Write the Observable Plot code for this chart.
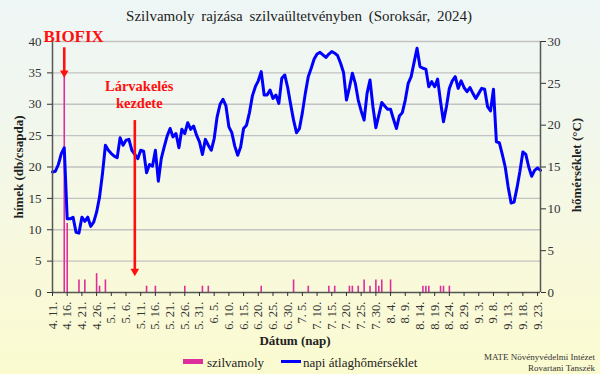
<!DOCTYPE html>
<html><head><meta charset="utf-8">
<script src="https://cdn.jsdelivr.net/npm/d3@7"></script>
<script src="https://cdn.jsdelivr.net/npm/@observablehq/plot@0.6"></script>
<style>
html,body{margin:0;padding:0;}
#wrap{position:relative;width:600px;height:374px;overflow:hidden;
 background:linear-gradient(to bottom,#eef6f6 0%,#f2f7ec 35%,#f8f9dc 70%,#fbfbd0 100%);
 font-family:"Liberation Serif","Times New Roman",serif;color:#222;}
#wrap svg{position:absolute;left:0;top:0;}
.ov{position:absolute;white-space:nowrap;line-height:1;}
</style></head><body>
<div id="wrap"></div>
<script>
// ---- data ----
const startDate = "2024-04-11";
// daily mean temperature (°C), 2024-04-11 .. 2024-09-24
const tempValues = [
 14.4,14.5,15.3,16.6,17.3, 8.8, 8.8, 9.0, 7.2, 7.1,
  9.0, 8.5, 9.0, 7.9, 8.4, 9.6,11.4,14.2,17.6,17.0,
 16.6,16.3,16.1,18.5,17.6,18.2,18.3,17.0,16.5,16.0,
 17.0,16.9,14.3,15.3,15.1,17.0,13.3,16.0,17.4,18.7,
 19.6,18.6,19.0,17.3,19.5,19.0,20.3,19.5,19.9,18.8,
 18.0,16.5,18.3,17.6,17.0,18.4,21.0,22.5,23.1,22.3,
 19.8,19.1,17.5,16.4,17.4,19.6,20.0,21.5,23.5,24.6,
 25.3,26.4,23.6,23.6,24.2,23.2,23.6,22.6,25.6,26.0,
 24.5,22.5,20.6,19.1,19.6,21.5,23.8,25.8,26.8,27.9,
 28.5,28.7,28.4,28.1,28.5,28.8,28.6,28.3,27.4,26.3,
 23.0,24.5,26.2,25.0,23.0,21.7,20.6,23.8,25.4,22.2,
 19.7,21.2,22.7,22.3,21.9,21.9,20.7,19.6,21.1,21.5,
 23.0,25.0,25.8,27.5,29.2,27.0,26.8,26.7,24.6,25.2,
 24.6,25.5,22.8,20.4,22.2,24.4,25.3,25.8,24.4,25.3,
 24.5,24.0,24.5,23.8,23.2,23.8,24.4,24.3,22.2,21.7,
 24.3,18.0,17.9,16.5,15.0,12.6,10.7,10.8,12.5,14.5,
 16.8,16.5,15.0,13.9,14.6,14.9,14.6
];
// plum moth males per trap
const mothDates = ["2024-04-15","2024-04-16","2024-04-20","2024-04-22","2024-04-26","2024-04-27","2024-04-29",
 "2024-05-13","2024-05-16","2024-05-26","2024-06-01","2024-06-03","2024-06-21","2024-07-02","2024-07-07",
 "2024-07-14","2024-07-16","2024-07-21","2024-07-22","2024-07-24","2024-07-26","2024-07-28","2024-07-30",
 "2024-07-31","2024-08-01","2024-08-04","2024-08-15","2024-08-16","2024-08-17","2024-08-21","2024-08-22","2024-08-24"];
const mothCounts = [35,11,2,2,3,1,2, 1,1,1,1,1,1,2,1, 1,1,1,1,1,2,1,2, 1,2,2,1,1,1,1,1,1];
const tickLabels = ["4. 11.","4. 16.","4. 21.","4. 26.","5. 1.","5. 6.","5. 11.","5. 16.","5. 21.","5. 26.","5. 31.",
 "6. 5.","6. 10.","6. 15.","6. 20.","6. 25.","6. 30.","7. 5.","7. 10.","7. 15.","7. 20.","7. 25.","7. 30.",
 "8. 4.","8. 9.","8. 14.","8. 19.","8. 24.","8. 29.","9. 3.","9. 8.","9. 13.","9. 18.","9. 23."];
const leftTicks = [0,5,10,15,20,25,30,35,40];
const rightTicks = [0,5,10,15,20,25,30];
const arrowMarks = [{date:"2024-04-15", from:39.0, to:34.2}, {date:"2024-05-09", from:27.4, to:2.6}];
const labelMarks = [{date:"2024-04-18", y:40.8, text:"BIOFIX", size:17},
                    {date:"2024-05-10", y:32.9, text:"Lárvakelés", size:14.5},
                    {date:"2024-05-10", y:30.2, text:"kezdete", size:14.5}];

// ---- build ----
const t0 = new Date(startDate);
const dayOf = s => d3.utcDay.count(t0, new Date(s));
const temps = tempValues.map((t,i)=>({day:i, t}));
const moths = mothDates.map((d,i)=>({day:dayOf(d), count:mothCounts[i]}));
const arrows = arrowMarks.map(a=>({...a, day:dayOf(a.date)}));
const labels = labelMarks.map(a=>({...a, day:dayOf(a.date)+(a.text==="BIOFIX"?0.2:0.5)}));
const k = 40/30; // temperature -> left scale
const lastDay = tempValues.length - 1;
const red = "#ff1010", pink = "#de2e9c";

const chart = Plot.plot({
  width: 600, height: 374,
  marginLeft: 52, marginRight: 60, marginTop: 41, marginBottom: 82,
  style: {background:"transparent", fontFamily:"Liberation Serif, Times New Roman, serif", fontSize:"13px", color:"#333"},
  x: {domain:[0, lastDay]},
  y: {domain:[0, 40]},
  marks: [
    Plot.ruleY(leftTicks.filter(v=>v>0), {stroke:"#c2c2c2", strokeWidth:1.3}),
    Plot.ruleX(moths, {x:"day", y:"count", stroke:pink, strokeWidth:1.6}),
    Plot.line(temps, {x:"day", y:d=>d.t*k, stroke:"#0000ff", strokeWidth:3, curve:"linear"}),
    Plot.ruleX([0, lastDay], {stroke:"#555", strokeWidth:1.5}),
    Plot.ruleY([0], {stroke:"#555", strokeWidth:1.5}),
    Plot.axisY({anchor:"left", ticks:leftTicks, tickSize:5, tickPadding:6, label:null, fontSize:13}),
    Plot.axisY({anchor:"right", ticks:rightTicks.map(v=>v*k), tickFormat:d=>String(Math.round(d/k)), tickSize:5, tickPadding:2, label:null, fontSize:13}),
    Plot.axisX({ticks:tickLabels.map((_,i)=>i*5), tickFormat:d=>tickLabels[d/5], tickRotate:-90, tickSize:4, tickPadding:5, label:null, fontSize:12.5}),
    Plot.ruleX(arrows, {x:"day", y1:"from", y2:d=>d.to+0.9, stroke:red, strokeWidth:2.6}),
    Plot.dot(arrows, {x:"day", y:"to", symbol:"triangle", r:3.2, rotate:180, dy:-5, fill:red, stroke:"none"}),
    Plot.text(labels, {x:"day", y:"y", text:"text", fontSize:d=>d.size, fontWeight:"bold", fill:red, fontFamily:"Liberation Serif, serif"})
  ]
});
const wrap = document.getElementById("wrap");
wrap.appendChild(chart);

function ov(html, css){ const d=document.createElement("div"); d.className="ov"; d.innerHTML=html; Object.assign(d.style, css); wrap.appendChild(d); return d; }
ov("Szilvamoly rajzása szilvaültetvényben (Soroksár, 2024)", {left:"299px", top:"16px", transform:"translate(-50%,-50%)", fontSize:"15px", wordSpacing:"3px", color:"#222"});
ov("hímek (db/csapda)", {left:"18px", top:"167px", transform:"translate(-50%,-50%) rotate(-90deg)", fontSize:"13px", fontWeight:"bold", color:"#222"});
ov("hőmérséklet (°C)", {left:"576px", top:"165px", transform:"translate(-50%,-50%) rotate(-90deg)", fontSize:"13px", fontWeight:"bold", color:"#222"});
ov("Dátum (nap)", {left:"295px", top:"340px", transform:"translate(-50%,-50%)", fontSize:"13px", fontWeight:"bold", color:"#222"});
ov("", {left:"183px", top:"359px", width:"20px", height:"5px", background:pink});
ov("szilvamoly", {left:"207px", top:"361.5px", transform:"translateY(-50%)", fontSize:"13px", color:"#222"});
ov("", {left:"281px", top:"359.5px", width:"20px", height:"3px", background:"#0000ff"});
ov("napi átlaghőmérséklet", {left:"303px", top:"361.5px", transform:"translateY(-50%)", fontSize:"13px", color:"#222"});
ov("MATE Növényvédelmi Intézet<br>Rovartani Tanszék", {right:"5px", top:"352px", textAlign:"right", fontSize:"9px", lineHeight:"11px", color:"#333"});
</script>
</body></html>
